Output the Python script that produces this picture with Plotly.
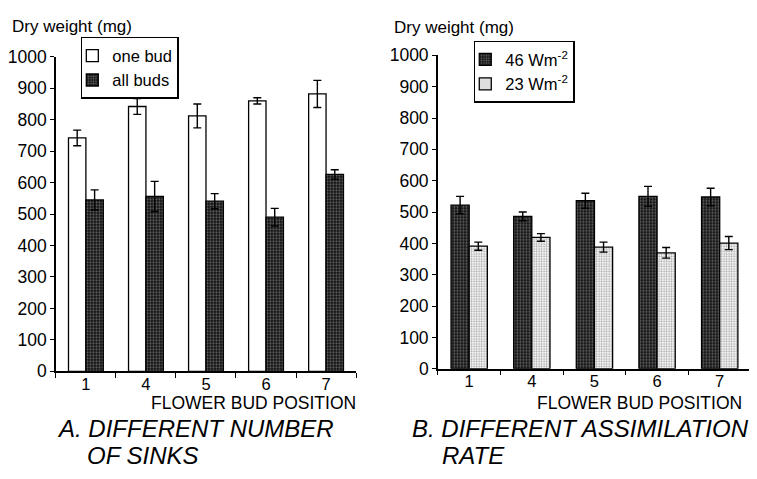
import plotly.graph_objects as go

positions = ["1", "4", "5", "6", "7"]

# Panel A
one_bud = [742, 842, 812, 860, 882]
one_bud_err = [25, 25, 38, 10, 43]
all_buds = [545, 556, 541, 490, 626]
all_buds_err = [32, 48, 24, 28, 15]

# Panel B
w46 = [522, 486, 536, 550, 548]
w46_err = [28, 14, 24, 32, 28]
w23 = [391, 419, 388, 370, 401]
w23_err = [13, 12, 16, 17, 21]

y_ticks = [0, 100, 200, 300, 400, 500, 600, 700, 800, 900, 1000]

FONT = "Arial, Liberation Sans, sans-serif"
W, H = 757, 479
OFF = 8  # page body margin


def px(x):
    return (x - OFF) / W


def py(y):
    return 1 - (y - OFF) / H


dark_pattern = dict(shape=".", fgcolor="#c8c8c8", bgcolor="#141414", size=3, solidity=0.35)
light_pattern = dict(shape=".", fgcolor="#555555", bgcolor="white", size=2.5, solidity=0.45)
err = dict(type="data", color="black", thickness=1.4, width=4)

fig = go.Figure()

fig.add_trace(go.Bar(x=positions, y=one_bud, name="one bud",
                     marker=dict(color="white", line=dict(color="black", width=1.3)),
                     error_y=dict(err, array=one_bud_err),
                     xaxis="x", yaxis="y", legend="legend"))
fig.add_trace(go.Bar(x=positions, y=all_buds, name="all buds",
                     marker=dict(color="#141414", pattern=dark_pattern, line=dict(color="black", width=1.3)),
                     error_y=dict(err, array=all_buds_err),
                     xaxis="x", yaxis="y", legend="legend"))
fig.add_trace(go.Bar(x=positions, y=w46, name="46 Wm<sup>-2</sup>",
                     marker=dict(color="#141414", pattern=dark_pattern, line=dict(color="black", width=1.3)),
                     error_y=dict(err, array=w46_err),
                     xaxis="x2", yaxis="y2", legend="legend2"))
fig.add_trace(go.Bar(x=positions, y=w23, name="23 Wm<sup>-2</sup>",
                     marker=dict(color="white", pattern=light_pattern, line=dict(color="black", width=1.3)),
                     error_y=dict(err, array=w23_err),
                     xaxis="x2", yaxis="y2", legend="legend2"))

xax = dict(type="category", showline=True, linecolor="black", linewidth=1.5,
           ticks="outside", ticklen=5, tickcolor="black", tickwidth=1.3, tickson="boundaries",
           ticklabelstandoff=-3,
           tickfont=dict(family=FONT, size=16.5, color="black"), showgrid=False, zeroline=False,
           range=[-0.5, 4.5], fixedrange=True)
yax = dict(range=[0, 1000], tickvals=y_ticks, showline=True, linecolor="black", linewidth=1.5,
           ticks="outside", ticklen=4, tickcolor="black", tickwidth=1.3,
           tickfont=dict(family=FONT, size=17.5, color="black"), showgrid=False, zeroline=False)

legend_common = dict(bordercolor="black", borderwidth=1.5, bgcolor="white",
                     font=dict(family=FONT, size=16.5, color="black"),
                     xanchor="left", yanchor="middle", traceorder="normal",
                     indentation=-10)

fig.update_layout(
    width=W, height=H,
    margin=dict(l=0, r=0, t=0, b=0),
    paper_bgcolor="white", plot_bgcolor="white",
    barmode="group", bargap=0.42, bargroupgap=0,
    xaxis=dict(xax, domain=[px(54), px(355)], anchor="y"),
    yaxis=dict(yax, domain=[py(376.7), py(48.5)], anchor="x"),
    xaxis2=dict(xax, domain=[px(437), px(751)], anchor="y2"),
    yaxis2=dict(yax, domain=[py(374), py(47)], anchor="x2"),
    legend=dict(legend_common, x=px(79), y=py(60)),
    legend2=dict(legend_common, x=px(473), y=py(64)),
    font=dict(family=FONT, color="black"),
)


def ann(text, x, y, size, xanchor="left", italic=False):
    t = f"<i>{text}</i>" if italic else text
    fig.add_annotation(text=t, x=px(x), y=py(y), xref="paper", yref="paper",
                       xanchor=xanchor, yanchor="middle", showarrow=False,
                       font=dict(family=FONT, size=size, color="black"))


ann("Dry weight (mg)", 8, 16.5, 17)
ann("Dry weight (mg)", 391, 17.5, 17)
ann("FLOWER BUD POSITION", 357, 410, 17.5, xanchor="right")
ann("FLOWER BUD POSITION", 744, 410, 17.5, xanchor="right")
ann("A. DIFFERENT NUMBER", 53, 436.5, 24, italic=True)
ann("OF SINKS", 83, 464.5, 24, italic=True)
ann("B. DIFFERENT ASSIMILATION", 409, 436.5, 24, italic=True)
ann("RATE", 439, 464.5, 24, italic=True)

fig.write_html("out.html")
